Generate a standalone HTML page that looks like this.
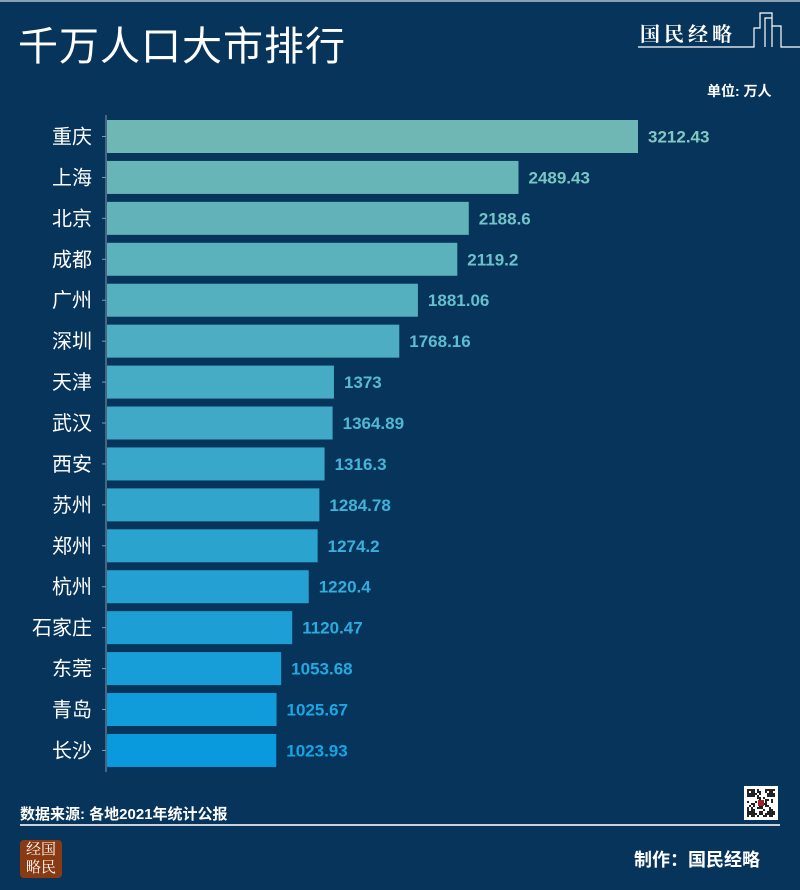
<!DOCTYPE html>
<html><head><meta charset="utf-8">
<style>
html,body{margin:0;padding:0}
body{width:800px;height:890px;background:#07345b;position:relative;overflow:hidden;font-family:"Liberation Sans","Noto Sans CJK SC",sans-serif;color:#fff}
.abs{position:absolute}
</style></head><body>
<div class="abs" style="left:0;top:0;width:800px;height:2px;background:#8aa0b4"></div>
<div class="abs" style="left:18px;top:14px;font-size:40px;font-weight:normal;letter-spacing:1px">千万人口大市排行</div>
<div class="abs" style="left:640px;top:18px;font-size:20px;font-weight:bold;font-family:'Noto Serif CJK SC',serif;letter-spacing:4px">国民经略</div>
<svg class="abs" style="left:0;top:0" width="800" height="60"><path d="M638 47H754V28H760V13H772V47M765 47V18H772M772 26H781V47H800" stroke="#fff" fill="none" stroke-width="1.2"/></svg>
<div class="abs" style="left:707px;top:81px;font-size:14px;font-weight:bold">单位: 万人</div>
<svg class="abs" style="left:0;top:0" width="800" height="800" id="chart"></svg>
<div class="abs" style="left:20px;top:803px;font-size:15px;font-weight:bold">数据来源: 各地2021年统计公报</div>
<svg class="abs" style="left:744px;top:786px" width="34" height="34" id="qr"></svg>
<div class="abs" style="left:20px;top:824px;width:760px;height:2px;background:#c9d3dd"></div>
<div class="abs" style="left:20px;top:840px;width:42px;height:38px;background:#8a3a12;border-radius:4px;font-size:15px;line-height:18px;text-align:center;font-family:'Noto Serif CJK SC',serif">经国<br>略民</div>
<div class="abs" style="left:634px;top:846px;font-size:18px;font-weight:bold">制作：国民经略</div>
<script>
const cities=["重庆","上海","北京","成都","广州","深圳","天津","武汉","西安","苏州","郑州","杭州","石家庄","东莞","青岛","长沙"];
const values=[3212.43,2489.43,2188.6,2119.2,1881.06,1768.16,1373,1364.89,1316.3,1284.78,1274.2,1220.4,1120.47,1053.68,1025.67,1023.93];
const labels=["3212.43","2489.43","2188.6","2119.2","1881.06","1768.16","1373","1364.89","1316.3","1284.78","1274.2","1220.4","1120.47","1053.68","1025.67","1023.93"];
const svg=document.getElementById('chart');const NS="http://www.w3.org/2000/svg";
const x0=107,xs=531/3212.43,y0=120,step=40.93,bh=33;
const x=v=>x0+v*xs, y=i=>y0+i*step;
function col(t){const a=[111,183,180],b=[9,153,221];return `rgb(${a.map((c,k)=>Math.round(c+(b[k]-c)*t)).join(',')})`;}
function lab(t){const a=[130,200,195],b=[20,165,230];return `rgb(${a.map((c,k)=>Math.round(c+(b[k]-c)*t)).join(',')})`;}
const ax=document.createElementNS(NS,'line');


ax.setAttribute('x1',106);ax.setAttribute('x2',106);ax.setAttribute('y1',y(0)-5);ax.setAttribute('y2',y(cities.length-1)+bh+5);ax.setAttribute('stroke','#8899aa');svg.appendChild(ax);
cities.forEach((c,i)=>{const t=i/(cities.length-1);
const r=document.createElementNS(NS,'rect');


r.setAttribute('x',x0);r.setAttribute('y',y(i));r.setAttribute('width',x(values[i])-x0);r.setAttribute('height',bh);r.setAttribute('fill',col(t));svg.appendChild(r);
const tk=document.createElementNS(NS,'line');


tk.setAttribute('x1',102);tk.setAttribute('x2',106);tk.setAttribute('y1',y(i)+bh/2);tk.setAttribute('y2',y(i)+bh/2);tk.setAttribute('stroke','#8899aa');svg.appendChild(tk);
const n=document.createElementNS(NS,'text');


n.setAttribute('x',92);n.setAttribute('y',y(i)+bh/2+7);n.setAttribute('text-anchor','end');n.setAttribute('fill','#fff');n.setAttribute('font-size','20');n.setAttribute('font-weight','normal');n.textContent=c;svg.appendChild(n);
const v=document.createElementNS(NS,'text');


v.setAttribute('x',x(values[i])+10);v.setAttribute('y',y(i)+bh/2+6);v.setAttribute('fill',lab(t));v.setAttribute('font-size','17');v.setAttribute('font-weight','bold');v.setAttribute('font-family','"Liberation Sans Narrow","Liberation Sans",sans-serif');v.textContent=labels[i];svg.appendChild(v);
});
const qr=document.getElementById('qr');
const bg=document.createElementNS(NS,'rect');bg.setAttribute('width',34);bg.setAttribute('height',34);bg.setAttribute('fill','#fff');qr.appendChild(bg);
const pat="1110101110101011100101001010010110001110110101101";
for(let r=0;r<14;r++)for(let c=0;c<14;c++){const on=(pat.charCodeAt((r*14+c)%pat.length)+r*c)%3===0||((r<4||r>9)&&(c<4||c>9)&&!(r%3===1&&c%3===1));if(on){const s=document.createElementNS(NS,'rect');s.setAttribute('x',3+c*2);s.setAttribute('y',3+r*2);s.setAttribute('width',2);s.setAttribute('height',2);s.setAttribute('fill','#222');qr.appendChild(s);}}
const red=document.createElementNS(NS,'rect');red.setAttribute('x',14);red.setAttribute('y',14);red.setAttribute('width',6);red.setAttribute('height',6);red.setAttribute('fill','#a0202a');qr.appendChild(red);
</script>
</body></html>
